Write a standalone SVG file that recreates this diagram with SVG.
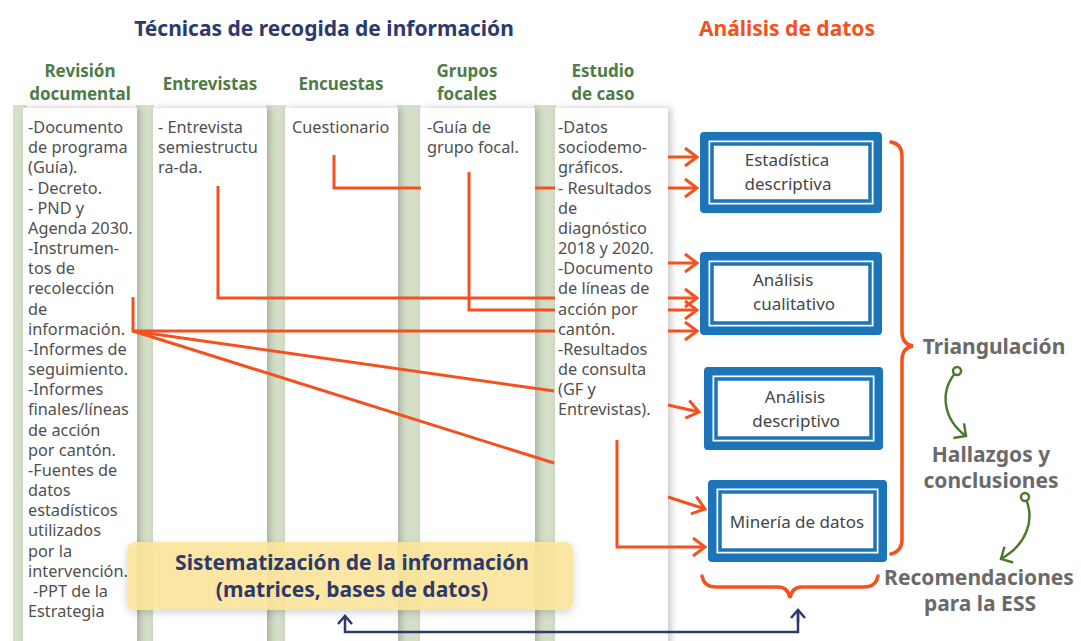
<svg xmlns="http://www.w3.org/2000/svg" width="1081" height="641" viewBox="0 0 1081 641">
<defs>
<style>
.ttl{font-family:"Noto Sans","Liberation Sans",sans-serif;font-weight:700;font-size:21px;text-anchor:middle}
.navy{fill:#2d3a6b}
.org{fill:#f4511e}
.hdr{font-family:"Noto Sans","Liberation Sans",sans-serif;font-weight:700;font-size:17px;fill:#4f7b47;text-anchor:middle}
.card{fill:#fff;filter:url(#sh)}
.ct{font-family:"Noto Sans","Liberation Sans",sans-serif;font-size:16.3px;fill:#4f4f4f}
.stripe{fill:#d5e0c9}
.conn{fill:none;stroke:#f4511e;stroke-width:3}
.arr{marker-end:url(#oa)}
.bx-out{fill:#1c74b9}
.bx-gap{fill:#fff}
.bx-in{fill:#fff;stroke:#1c74b9;stroke-width:3.5}
.bt{font-family:"Noto Sans","Liberation Sans",sans-serif;font-size:17px;fill:#454545;text-anchor:middle}
.rt{font-family:"Noto Sans","Liberation Sans",sans-serif;font-weight:700;font-size:21px;fill:#6a6a6a;text-anchor:middle}
.brace{fill:none;stroke:#f4511e;stroke-width:3.5;stroke-linecap:round}
.nl{fill:none;stroke:#2d3a6b;stroke-width:2.5}
.gl{fill:none;stroke:#4b7a2c;stroke-width:2.5}
.yb{fill:#fde69a;fill-opacity:0.88;filter:url(#sh2)}
.st{font-family:"Noto Sans","Liberation Sans",sans-serif;font-weight:700;font-size:21px;fill:#2d3a6b;text-anchor:middle}
</style>
<filter id="sh" x="-20%" y="-5%" width="150%" height="110%">
<feDropShadow dx="3" dy="0" stdDeviation="3.5" flood-color="#000" flood-opacity="0.22"/>
</filter>
<filter id="sh2" x="-10%" y="-20%" width="120%" height="160%">
<feDropShadow dx="0" dy="3" stdDeviation="4" flood-color="#000" flood-opacity="0.18"/>
</filter>
<marker id="oa" markerUnits="userSpaceOnUse" viewBox="-16 -12 20 24" refX="0" refY="0" markerWidth="20" markerHeight="24" orient="auto" overflow="visible">
<path d="M-12,-9 L0,0 L-12,9" fill="none" stroke="#f4511e" stroke-width="3"/>
</marker>
<marker id="na" markerUnits="userSpaceOnUse" viewBox="-12 -10 14 20" refX="0" refY="0" markerWidth="14" markerHeight="20" orient="auto" overflow="visible">
<path d="M-8,-7 L0,0 L-8,7" fill="none" stroke="#2d3a6b" stroke-width="2.5"/>
</marker>
<marker id="ga" markerUnits="userSpaceOnUse" viewBox="-12 -12 14 24" refX="0" refY="0" markerWidth="14" markerHeight="24" orient="auto" overflow="visible">
<path d="M-9,-9 L0,0 L-9,9" fill="none" stroke="#4b7a2c" stroke-width="2.5"/>
</marker>
<marker id="gc" markerUnits="userSpaceOnUse" viewBox="-6 -6 12 12" refX="0" refY="0" markerWidth="12" markerHeight="12" overflow="visible">
<circle cx="0" cy="0" r="4" fill="#fff" stroke="#4b7a2c" stroke-width="2.5"/>
</marker>
</defs>

<rect x="0" y="0" width="1081" height="641" fill="#fff"/>

<text class="ttl navy" x="324" y="36">Técnicas de recogida de información</text>
<text class="ttl org" x="787" y="36">Análisis de datos</text>

<g id="stripes">
<rect class="stripe" x="13" y="105" width="14" height="536"/>
<rect class="stripe" x="136" y="105" width="18" height="536"/>
<rect class="stripe" x="266" y="105" width="20" height="536"/>
<rect class="stripe" x="397" y="105" width="24" height="536"/>
<rect class="stripe" x="534" y="105" width="22" height="536"/>
</g>

<g id="col-revision">
<text class="hdr" x="80" y="77">Revisión</text>
<text class="hdr" x="80" y="100">documental</text>
<rect class="card" x="23" y="108" width="114" height="540"/>
<text class="ct" x="28" y="133"><tspan x="28">-Documento</tspan><tspan x="28" dy="20.17">de programa</tspan><tspan x="28" dy="20.17">(Guía).</tspan><tspan x="28" dy="20.17">- Decreto.</tspan><tspan x="28" dy="20.17">- PND y</tspan><tspan x="28" dy="20.17">Agenda 2030.</tspan><tspan x="28" dy="20.17">-Instrumen-</tspan><tspan x="28" dy="20.17">tos de</tspan><tspan x="28" dy="20.17">recolección</tspan><tspan x="28" dy="20.17">de</tspan><tspan x="28" dy="20.17">información.</tspan><tspan x="28" dy="20.17">-Informes de</tspan><tspan x="28" dy="20.17">seguimiento.</tspan><tspan x="28" dy="20.17">-Informes</tspan><tspan x="28" dy="20.17">finales/líneas</tspan><tspan x="28" dy="20.17">de acción</tspan><tspan x="28" dy="20.17">por cantón.</tspan><tspan x="28" dy="20.17">-Fuentes de</tspan><tspan x="28" dy="20.17">datos</tspan><tspan x="28" dy="20.17">estadísticos</tspan><tspan x="28" dy="20.17">utilizados</tspan><tspan x="28" dy="20.17">por la</tspan><tspan x="28" dy="20.17">intervención.</tspan><tspan x="33" dy="20.17">-PPT de la</tspan><tspan x="28" dy="20.17">Estrategia</tspan></text>
</g>

<g id="col-entrevistas">
<text class="hdr" x="210" y="90">Entrevistas</text>
<rect class="card" x="153" y="108" width="114" height="540"/>
<text class="ct" x="158" y="133"><tspan x="158">- Entrevista</tspan><tspan x="158" dy="20.17">semiestructu</tspan><tspan x="158" dy="20.17">ra-da.</tspan></text>
</g>

<g id="col-encuestas">
<text class="hdr" x="341" y="90">Encuestas</text>
<rect class="card" x="285" y="108" width="113" height="540"/>
<text class="ct" x="292" y="133">Cuestionario</text>
</g>

<g id="col-grupos">
<text class="hdr" x="467" y="77">Grupos</text>
<text class="hdr" x="467" y="100">focales</text>
<rect class="card" x="420" y="108" width="115" height="540"/>
<text class="ct" x="427" y="133"><tspan x="427">-Guía de</tspan><tspan x="427" dy="20.17">grupo focal.</tspan></text>
</g>

<g id="col-estudio">
<text class="hdr" x="603" y="77">Estudio</text>
<text class="hdr" x="603" y="100">de caso</text>
<rect class="card" x="555" y="108" width="113" height="540"/>
<text class="ct" x="558" y="133"><tspan x="558">-Datos</tspan><tspan x="558" dy="20.17">sociodemo-</tspan><tspan x="558" dy="20.17">gráficos.</tspan><tspan x="558" dy="20.17">- Resultados</tspan><tspan x="558" dy="20.17">de</tspan><tspan x="558" dy="20.17">diagnóstico</tspan><tspan x="558" dy="20.17">2018 y 2020.</tspan><tspan x="558" dy="20.17">-Documento</tspan><tspan x="558" dy="20.17">de líneas de</tspan><tspan x="558" dy="20.17">acción por</tspan><tspan x="558" dy="20.17">cantón.</tspan><tspan x="558" dy="20.17">-Resultados</tspan><tspan x="558" dy="20.17">de consulta</tspan><tspan x="558" dy="20.17">(GF y</tspan><tspan x="558" dy="20.17">Entrevistas).</tspan></text>
</g>

<g id="connectors">
<path class="conn arr" d="M668,157 L697,157"/>
<path class="conn" d="M334,155 L334,188 L421,188"/>
<path class="conn" d="M535,188 L555,188"/>
<path class="conn arr" d="M668,188 L697,188"/>
<path class="conn arr" d="M668,263 L697,263"/>
<path class="conn" d="M218,186 L218,298 L555,298"/>
<path class="conn arr" d="M668,298 L697,298"/>
<path class="conn" d="M469,172 L469,310 L555,310"/>
<path class="conn arr" d="M668,310 L697,310"/>
<path class="conn" d="M133,297 L133,331 L555,331"/>
<path class="conn arr" d="M668,331 L697,331"/>
<path class="conn" d="M133,331 L554,391"/>
<path class="conn arr" d="M668,405 L699,412"/>
<path class="conn" d="M133,331 L554,463"/>
<path class="conn arr" d="M668,497 L705,509"/>
<path class="conn arr" d="M617,440 L617,547 L705,547"/>
</g>

<g id="box-estadistica">
<rect class="bx-out" x="700" y="132" width="182" height="81" rx="4"/>
<rect class="bx-gap" x="708.5" y="140.5" width="165" height="64"/>
<rect class="bx-in" x="712" y="144" width="158" height="57"/>
<text class="bt" x="787" y="166">Estadística</text>
<text class="bt" x="788" y="190">descriptiva</text>
</g>

<g id="box-cualitativo">
<rect class="bx-out" x="700" y="252" width="182" height="83" rx="4"/>
<rect class="bx-gap" x="708.5" y="260.5" width="165" height="66"/>
<rect class="bx-in" x="712" y="264" width="158" height="59"/>
<text class="bt" x="753" y="286" style="text-anchor:start">Análisis</text>
<text class="bt" x="753" y="310" style="text-anchor:start">cualitativo</text>
</g>

<g id="box-descriptivo">
<rect class="bx-out" x="704" y="367" width="179" height="83" rx="4"/>
<rect class="bx-gap" x="712.5" y="375.5" width="162" height="66"/>
<rect class="bx-in" x="716" y="379" width="155" height="59"/>
<text class="bt" x="795" y="403">Análisis</text>
<text class="bt" x="796" y="427">descriptivo</text>
</g>

<g id="box-mineria">
<rect class="bx-out" x="708" y="480" width="179" height="82" rx="4"/>
<rect class="bx-gap" x="716.5" y="488.5" width="162" height="65"/>
<rect class="bx-in" x="720" y="492" width="155" height="58"/>
<text class="bt" x="797" y="528">Minería de datos</text>
</g>

<g id="braces">
<path class="brace" d="M891,142 Q902,144 902,156 L902,332 Q902,344 913,346 Q902,348 902,360 L902,540 Q902,551 891,554"/>
<path class="brace" d="M702,576 Q704,587 716,587 L778,587 Q788,587 790,598 Q792,587 802,587 L864,587 Q876,587 878,576"/>
</g>

<g id="results">
<text class="rt" x="994" y="354">Triangulación</text>
<text class="rt" x="991" y="462">Hallazgos y</text>
<text class="rt" x="991" y="488">conclusiones</text>
<text class="rt" x="979" y="585">Recomendaciones</text>
<text class="rt" x="980" y="611">para la ESS</text>
<path class="gl" d="M957,371 C938,392 944,420 966,436" marker-start="url(#gc)" marker-end="url(#ga)"/>
<path class="gl" d="M1025,497 C1036,520 1026,545 1001,559" marker-start="url(#gc)" marker-end="url(#ga)"/>
</g>

<g id="sistematizacion">
<rect class="yb" x="127" y="542" width="446" height="68" rx="8"/>
<text class="st" x="352" y="570">Sistematización de la información</text>
<text class="st" x="352" y="597">(matrices, bases de datos)</text>
</g>

<g id="feedback">
<path class="nl" d="M798,610 L798,632 L345,632 L345,616" marker-end="url(#na)"/>
<path class="nl" d="M798,622 L798,610" marker-end="url(#na)"/>
</g>
</svg>
